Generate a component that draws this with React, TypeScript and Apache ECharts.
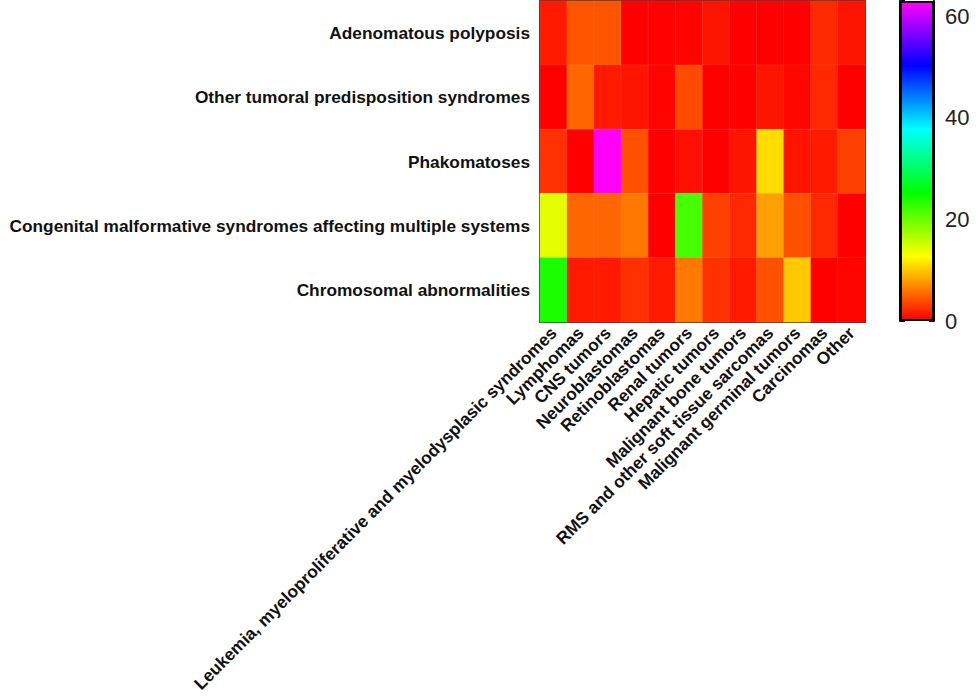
import React, { useEffect, useRef } from "react";
import * as echarts from "echarts";

const tumorTypes = [
  "Leukemia, myeloproliferative and myelodysplasic syndromes",
  "Lymphomas",
  "CNS tumors",
  "Neuroblastomas",
  "Retinoblastomas",
  "Renal tumors",
  "Hepatic tumors",
  "Malignant bone tumors",
  "RMS and other soft tissue sarcomas",
  "Malignant germinal tumors",
  "Carcinomas",
  "Other",
];

const syndromes = [
  "Adenomatous polyposis",
  "Other tumoral predisposition syndromes",
  "Phakomatoses",
  "Congenital malformative syndromes affecting multiple systems",
  "Chromosomal abnormalities",
];

const adenomatousPolyposis = [1.3, 4.2, 4.2, 0, 0.1, 0.2, 1, 0, 0, 0, 2.1, 1];
const otherPredisposition = [0, 5, 1.3, 1, 0.2, 3.7, 0, 0, 1, 0.3, 2, 0];
const phakomatoses = [2.4, 0, 63, 4, 0, 0.8, 0, 1, 10.9, 1, 1.3, 3.2];
const congenitalMalformative = [13.9, 5, 5, 6, 0, 21.8, 3.2, 2, 7.9, 4, 2, 0];
const chromosomalAbnormalities = [23.9, 1.3, 1.3, 2.4, 1.3, 6, 2.4, 1.3, 4, 9.9, 0, 0.2];

const valueRows = [
  adenomatousPolyposis,
  otherPredisposition,
  phakomatoses,
  congenitalMalformative,
  chromosomalAbnormalities,
];

const scaleMin = 0;
const scaleMax = 63;
const scaleTicks = 20;
const rainbow = ["#ff0000", "#ffff00", "#00ff00", "#00ffff", "#0000ff", "#ff00ff"];

const FONT = "'Liberation Sans', Arial, Helvetica, sans-serif";

export default function App() {
  const ref = useRef<HTMLDivElement>(null);

  useEffect(() => {
    if (!ref.current) return;
    const chart = echarts.init(ref.current, undefined, { renderer: "svg" });

    const heatData: number[][] = [];
    valueRows.forEach((row, yi) => {
      row.forEach((v, xi) => heatData.push([xi, yi, v]));
    });

    const gradient = new echarts.graphic.LinearGradient(
      0,
      1,
      0,
      0,
      rainbow.map((c, i) => ({ offset: i / (rainbow.length - 1), color: c }))
    );

    const labelStyle = {
      fontFamily: FONT,
      fontWeight: "bold" as const,
      fontSize: 17.3,
      color: "#111",
    };

    chart.setOption({
      animation: false,
      backgroundColor: "#fff",
      textStyle: { fontFamily: FONT },
      grid: [
        { left: 540, top: 1, width: 325, height: 321 },
        { left: 900, top: 1, width: 34, height: 320 },
      ],
      xAxis: [
        {
          type: "category",
          gridIndex: 0,
          data: tumorTypes,
          position: "bottom",
          axisLine: { show: true, lineStyle: { color: "#333", width: 2 } },
          axisTick: { show: false },
          axisLabel: { ...labelStyle, rotate: 45, margin: 8, interval: 0 },
          splitLine: { show: false },
        },
        {
          type: "category",
          gridIndex: 0,
          data: tumorTypes,
          position: "top",
          axisLine: { show: true, lineStyle: { color: "#333", width: 2 } },
          axisTick: { show: false },
          axisLabel: { show: false },
        },
        {
          type: "category",
          gridIndex: 1,
          data: ["scale"],
          axisLine: { show: false },
          axisTick: { show: false },
          axisLabel: { show: false },
        },
      ],
      yAxis: [
        {
          type: "category",
          gridIndex: 0,
          data: syndromes,
          inverse: true,
          position: "left",
          axisLine: { show: true, lineStyle: { color: "#333", width: 2 } },
          axisTick: { show: false },
          axisLabel: { ...labelStyle, margin: 10, interval: 0 },
        },
        {
          type: "category",
          gridIndex: 0,
          data: syndromes,
          inverse: true,
          position: "right",
          axisLine: { show: true, lineStyle: { color: "#333", width: 2 } },
          axisTick: { show: false },
          axisLabel: { show: false },
        },
        {
          type: "value",
          gridIndex: 1,
          position: "right",
          min: scaleMin,
          max: scaleMax,
          interval: scaleTicks,
          axisLine: { show: true, lineStyle: { color: "#000", width: 2 } },
          axisTick: { show: true, inside: true, length: 5, lineStyle: { color: "#000", width: 2 } },
          axisLabel: {
            fontFamily: FONT,
            fontSize: 22,
            color: "#222",
            margin: 11,
            showMaxLabel: false,
          },
          splitLine: { show: false },
        },
        {
          type: "value",
          gridIndex: 1,
          position: "left",
          min: scaleMin,
          max: scaleMax,
          interval: scaleTicks,
          axisLine: { show: true, lineStyle: { color: "#000", width: 2 } },
          axisTick: { show: true, inside: true, length: 5, lineStyle: { color: "#000", width: 2 } },
          axisLabel: { show: false },
          splitLine: { show: false },
        },
      ],
      visualMap: {
        show: false,
        type: "continuous",
        seriesIndex: 0,
        min: scaleMin,
        max: scaleMax,
        inRange: { color: rainbow },
      },
      series: [
        {
          type: "heatmap",
          xAxisIndex: 0,
          yAxisIndex: 0,
          data: heatData,
          itemStyle: { borderColor: "rgba(255,255,255,0.08)", borderWidth: 1 },
          emphasis: { disabled: true },
        },
        {
          type: "bar",
          xAxisIndex: 2,
          yAxisIndex: 2,
          data: [scaleMax],
          barWidth: "100%",
          itemStyle: { color: gradient, borderColor: "#000", borderWidth: 2 },
          z: 1,
        },
      ],
    });

    return () => chart.dispose();
  }, []);

  return (
    <div
      ref={ref}
      style={{ position: "fixed", left: 0, top: 0, width: 978, height: 700 }}
    />
  );
}
